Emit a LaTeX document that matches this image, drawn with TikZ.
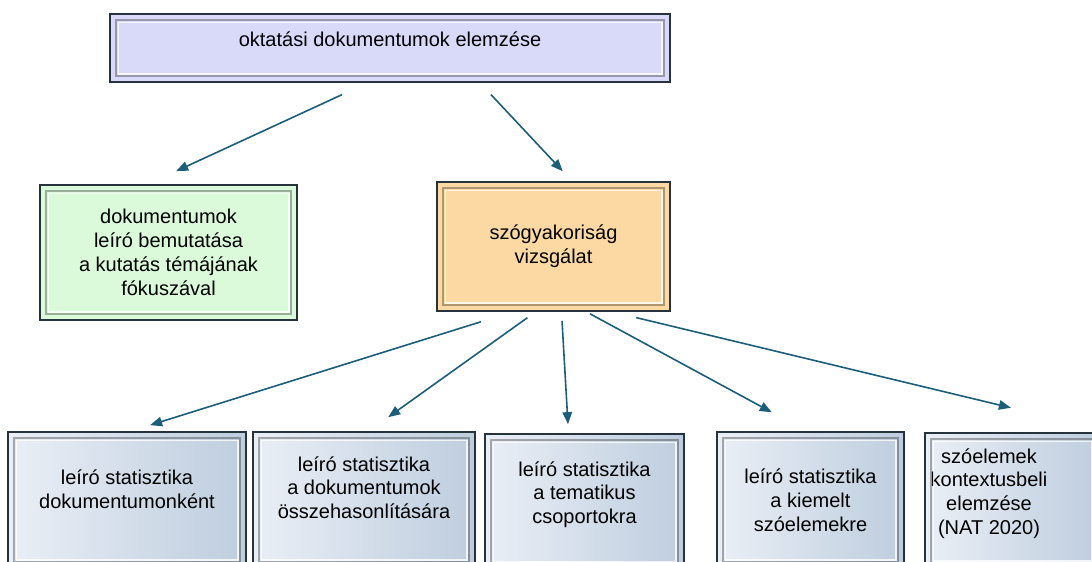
\documentclass[tikz,border=0pt]{standalone}
\usepackage{fontspec}
\setmainfont{Liberation Sans}
\usetikzlibrary{arrows.meta}
\definecolor{framedark}{RGB}{38,50,60}
\definecolor{mainlav}{RGB}{217,217,250}
\definecolor{descgreen}{RGB}{218,250,218}
\definecolor{freqorange}{RGB}{252,216,162}
\definecolor{statlight}{RGB}{234,239,246}
\definecolor{statdark}{RGB}{190,205,222}
\definecolor{arrowteal}{RGB}{28,94,122}
\newcommand\lift[1]{\rule[-#1pt]{0pt}{#1pt}}
\tikzset{
  flow/.style={arrowteal,line width=1.6pt,-{Triangle[length=12pt,width=9.5pt]}},
  panel/.style={draw=framedark,line width=1.8pt,inner sep=0pt,align=center,
                font=\fontsize{20}{23.8}\selectfont},
  topbox/.style={panel,fill=mainlav},
  descbox/.style={panel,fill=descgreen},
  freqbox/.style={panel,fill=freqorange},
  statbox/.style={panel,left color=statlight,right color=statdark,minimum height=136},
  bevelshade/.style={draw=black,opacity=0.3,line width=1.4pt},
  bevellight/.style={draw=white,opacity=0.8,line width=1.2pt},
}

\begin{document}
\begin{tikzpicture}[x=1pt,y=-1pt]
  \useasboundingbox (0,0) rectangle (1092,562);

  % upper levels
  \node[topbox,minimum width=560,minimum height=68] (top) at (390,48)
    {oktatási dokumentumok elemzése\lift{17}};
  \node[descbox,minimum width=257,minimum height=135] (dok) at (168.5,252.5)
    {dokumentumok\\leíró bemutatása\\a kutatás témájának\\fókuszával};
  \node[freqbox,minimum width=233,minimum height=129] (szo) at (553.5,246.5)
    {szógyakoriság\\vizsgálat};

  % statistics row
  \node[statbox,minimum width=238] (ks1) at (127,500)
    {leíró statisztika\\dokumentumonként\lift{21}};
  \node[statbox,minimum width=222] (ks2) at (364,500)
    {leíró statisztika\\a dokumentumok\\összehasonlítására\lift{25}};
  \node[statbox,minimum width=199] (ks3) at (584.5,502)
    {leíró statisztika\\a tematikus\\csoportokra\lift{19}};
  \node[statbox,minimum width=187] (ks4) at (810.5,500)
    {leíró statisztika\\a kiemelt\\szóelemekre};
  \node[statbox,minimum width=175] (ks5) at (1012.5,501)
    {\begin{tabular}{@{}c@{}}szóelemek\\kontextusbeli\\elemzése\\(NAT 2020)\lift{21}\end{tabular}\kern47pt};

  % bevelled inner frames
  \foreach \n in {top,dok,szo,ks1,ks2,ks3,ks4,ks5}{
    \draw[bevelshade] ([shift={(7,7)}]\n.north west) rectangle ([shift={(-7,-7)}]\n.south east);
    \draw[bevellight] ([shift={(9,9)}]\n.north west) rectangle ([shift={(-9,-9)}]\n.south east);
  }

  % connectors
  \draw[flow,shorten <=28pt,shorten >=31pt] ([xshift=-22.5]top.south) -- ([xshift=-20.5]dok.north);
  \draw[flow,shorten <=16pt,shorten >=13.5pt] ([xshift=90]top.south) -- ([xshift=18.5]szo.north);
  \draw[flow,shorten <=33pt,shorten >=20pt] ([xshift=-41]szo.south) -- ([xshift=4]ks1.north);
  \draw[flow,shorten <=10pt,shorten >=24pt] ([xshift=-18]szo.south) -- ([xshift=4.7]ks2.north);
  \draw[flow,shorten <=9pt,shorten >=9pt] ([xshift=8]szo.south) -- ([xshift=-16]ks3.north);
  \draw[flow,shorten <=4pt,shorten >=39.5pt] ([xshift=33]szo.south) -- ([xshift=-4]ks4.north);
  \draw[flow,shorten <=24.4pt,shorten >=104pt] ([xshift=59]szo.south) -- ([xshift=99.5]ks5.north);
\end{tikzpicture}
\end{document}
